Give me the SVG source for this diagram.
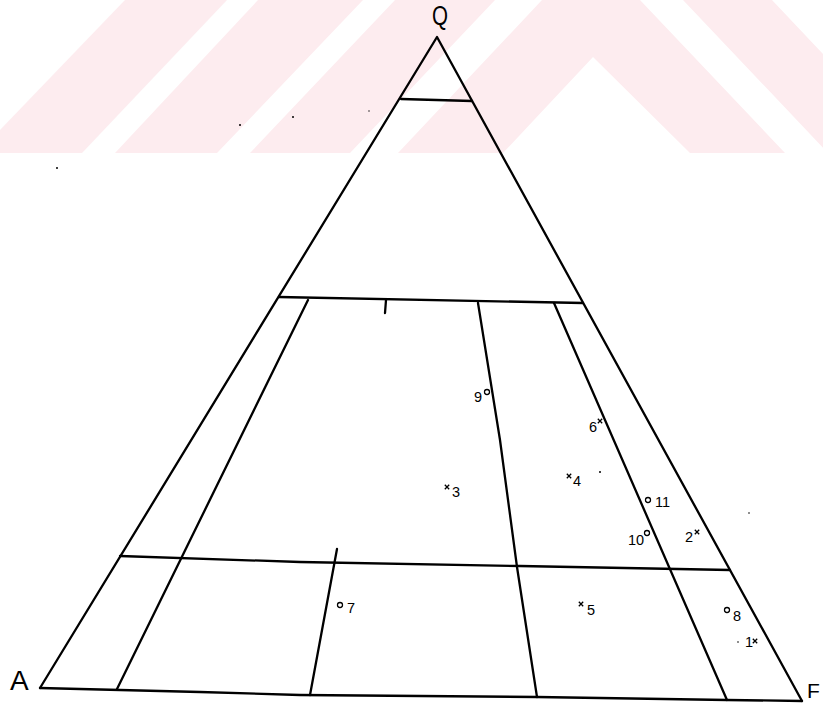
<svg xmlns="http://www.w3.org/2000/svg" width="823" height="705" viewBox="0 0 823 705">
<style>
.wm{fill:#fdecef;stroke:none}
.ln{fill:none;stroke:#000;stroke-width:2.3;stroke-linecap:round;stroke-linejoin:round}
.mk{fill:none;stroke:#000;stroke-width:1.3}
.lab{font-family:"Liberation Sans",Arial,sans-serif;font-size:14.5px;fill:#000}
.big{font-family:"Liberation Sans",Arial,sans-serif;fill:#000}
.dot{fill:#000}
</style>
<defs>
<circle id="o" r="2.5" class="mk"/>
<path id="x" d="M-2.2,-2.2L2.2,2.2M-2.2,2.2L2.2,-2.2" class="mk"/>
</defs>
<rect width="823" height="705" fill="#fff"/>
<g id="watermark">
<polygon class="wm" points="0,130 125,0 227,0 82,153 0,153"/>
<polygon class="wm" points="115,153 258,0 363,0 217,153"/>
<polygon class="wm" points="250,153 395,0 495,0 350,153"/>
<polygon class="wm" points="398,153 542,0 640,0 785,153 690,153 593,57 503,153"/>
<polygon class="wm" points="683,0 772,0 823,54 823,153 828,153"/>
</g>
<g id="connectors">
<path class="ln" d="M40,688 L437,37 L802,701"/>
<polyline class="ln" points="40,688 200,692 300,695 537,697 727,700 802,701"/>
<line class="ln" x1="401" y1="99" x2="472" y2="101"/>
<line class="ln" x1="279" y1="297" x2="583" y2="303"/>
<line class="ln" x1="386" y1="300" x2="385" y2="313"/>
<polyline class="ln" points="120,556 300,562 520,566 730,570"/>
<line class="ln" x1="308" y1="300" x2="117" y2="689"/>
<polyline class="ln" points="478,303 500,440 517,567 537,697"/>
<line class="ln" x1="554" y1="303" x2="727" y2="700"/>
<line class="ln" x1="337" y1="549" x2="310" y2="695"/>
</g>
<g id="vertex-labels">
<text class="big" x="432" y="25" font-size="27" textLength="16" lengthAdjust="spacingAndGlyphs">Q</text>
<text class="big" x="10" y="690" font-size="28">A</text>
<text class="big" x="807" y="698" font-size="21">F</text>
</g>
<g id="p9"><use href="#o" x="487" y="392"/><text class="lab" x="474" y="402">9</text></g>
<g id="p3"><use href="#x" x="447" y="487"/><text class="lab" x="452" y="497">3</text></g>
<g id="p6"><use href="#x" x="600" y="421"/><text class="lab" x="589" y="432">6</text></g>
<g id="p4"><use href="#x" x="569" y="476"/><text class="lab" x="573" y="486">4</text></g>
<g id="p11"><use href="#o" x="648" y="500"/><text class="lab" x="655" y="507">11</text></g>
<g id="p10"><use href="#o" x="647" y="533"/><text class="lab" x="628" y="545">10</text></g>
<g id="p2"><use href="#x" x="697" y="532"/><text class="lab" x="685" y="542">2</text></g>
<g id="p7"><use href="#o" x="340" y="605"/><text class="lab" x="347" y="613">7</text></g>
<g id="p5"><use href="#x" x="581" y="604"/><text class="lab" x="587" y="615">5</text></g>
<g id="p8"><use href="#o" x="727" y="610"/><text class="lab" x="733" y="621">8</text></g>
<g id="p1"><use href="#x" x="755" y="641"/><text class="lab" x="745" y="647">1</text></g>
<g id="specks">
<circle class="dot" cx="240" cy="125" r="1"/>
<circle class="dot" cx="293" cy="117" r="1"/>
<circle class="dot" cx="369" cy="111" r="0.7"/>
<circle class="dot" cx="600" cy="472" r="1"/>
<circle class="dot" cx="749" cy="513" r="0.8"/>
<circle class="dot" cx="738" cy="642" r="0.8"/>
<circle class="dot" cx="57" cy="168" r="1"/>
</g>
</svg>
